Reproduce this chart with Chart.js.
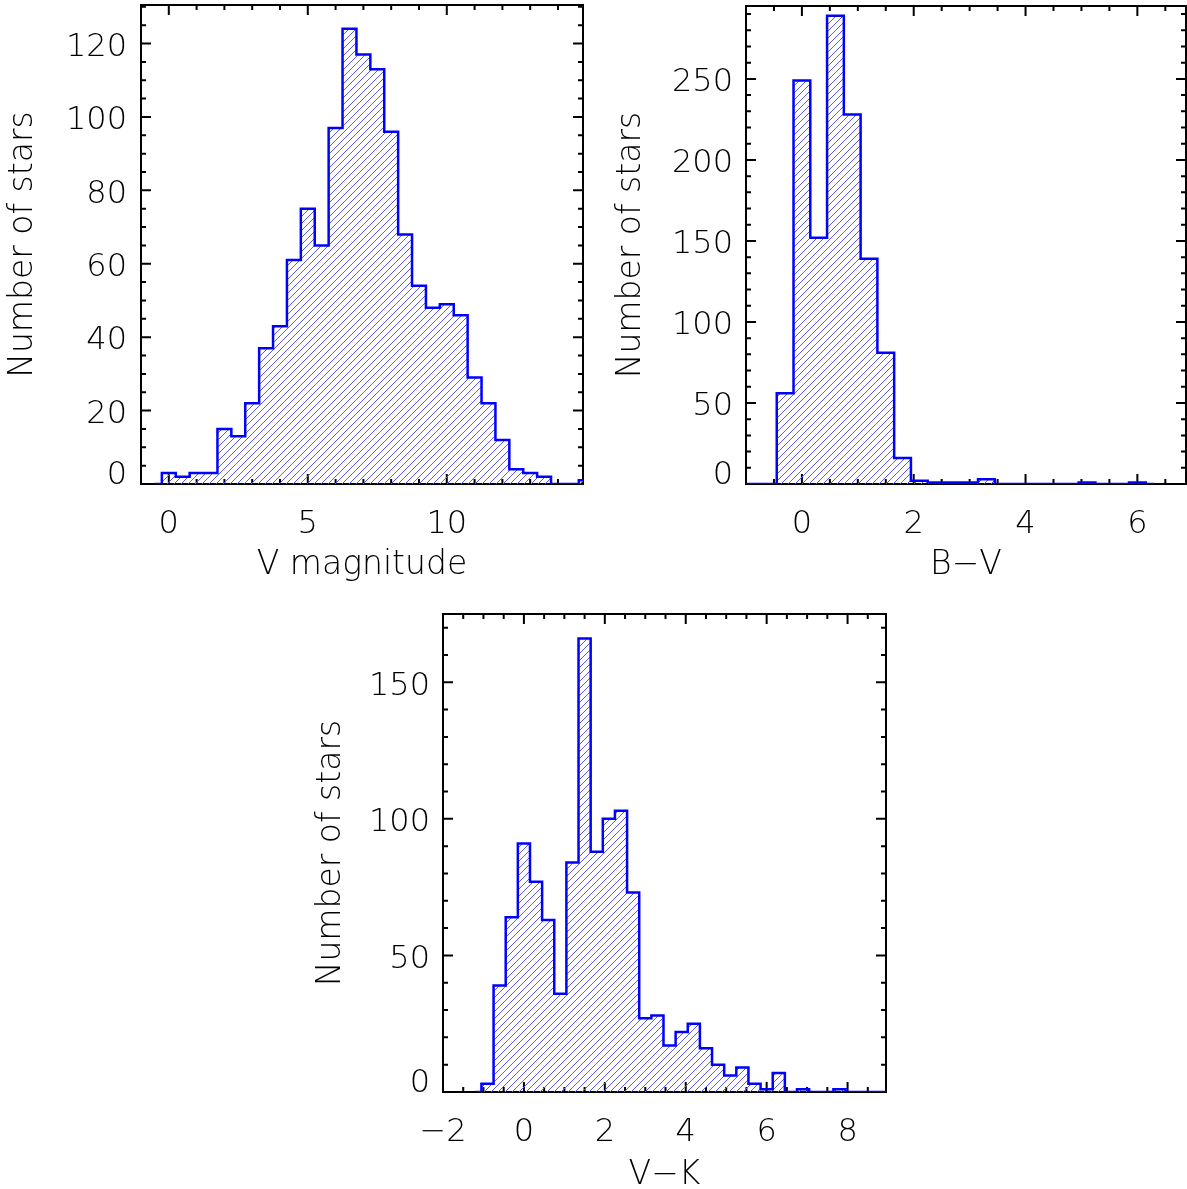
<!DOCTYPE html>
<html>
<head>
<meta charset="utf-8">
<script src="https://cdn.jsdelivr.net/npm/chart.js@4.4.0/dist/chart.umd.min.js"></script>
<style>
  html, body { margin: 0; padding: 0; background: #fff; }
  body { width: 1187px; height: 1189px; position: relative; overflow: hidden; }
  .panel { position: absolute; }
</style>
</head>
<body>
<div class="panel" style="left:0;top:0;width:600px;height:595px"><canvas id="vmag"></canvas></div>
<div class="panel" style="left:600px;top:0;width:587px;height:595px"><canvas id="bv"></canvas></div>
<div class="panel" style="left:290px;top:600px;width:610px;height:589px"><canvas id="vk"></canvas></div>
<script>
// V magnitude: bins of 0.5, first bin centred on -0.5
var vmagStart = -0.5
var vmagWidth = 0.5
var vmagCounts = [0, 3, 2, 3, 3, 15, 13, 22, 37, 43, 61, 75, 65, 97, 124, 117, 113, 96, 68, 54, 48, 49, 46, 29, 22, 12, 4, 3, 2, 0, 0, 1]
var vmagXTicks = [0, 5, 10]
var vmagYTicks = [0, 20, 40, 60, 80, 100, 120]

// B-V: bins of 0.3, first bin centred on -1.2
var bvStart = -1.2
var bvWidth = 0.3
var bvCounts = [0, 0, 0, 56, 249, 152, 289, 228, 139, 81, 16, 2, 1, 1, 1, 3, 0, 0, 0, 0, 0, 1, 0, 0, 1, 0]
var bvXTicks = [0, 2, 4, 6]
var bvYTicks = [0, 50, 100, 150, 200, 250]

// V-K: bins of 0.3, first bin centred on -1.2
var vkStart = -1.2
var vkWidth = 0.3
var vkCounts = [0, 3, 39, 64, 91, 77, 63, 36, 84, 166, 88, 100, 103, 73, 27, 28, 17, 22, 25, 16, 10, 6, 9, 3, 1, 7, 0, 1, 0, 0, 1, 0, 0, 0, 0]
var vkXTicks = [-2, 0, 2, 4, 6, 8]
var vkYTicks = [0, 50, 100, 150]

var blue = '#0000ff'
var fontFamily = "'DejaVu Sans', sans-serif"

function tickLabel(v) {
    return v < 0 ? '\u2212' + Math.abs(v) : String(v)
}

// IDL puts the "0" label a bit above the bottom axis
function yTickLabel(v) {
    return v === 0 ? ['0', ''] : String(v)
}

function yTickFont(c) {
    if (c.tick && c.tick.value === 0) return { family: fontFamily, size: 32, weight: 300, lineHeight: 0.75 }
    return { family: fontFamily, size: 32, weight: 300 }
}

// crisp one-pixel "/" hatching like IDL's polyfill lines
function hatch(canvas) {
    var n = 7
    var c = document.createElement('canvas')
    c.width = n
    c.height = n
    var g = c.getContext('2d')
    g.fillStyle = 'rgb(90, 90, 255)'
    for (var i = 0; i < n; i++) g.fillRect(i, n - 1 - i, 1, 1)
    return canvas.getContext('2d').createPattern(c, 'repeat')
}

// box around the plot with inward major / minor ticks on all four sides
var frameTicks = {
    id: 'frameTicks',
    beforeDatasetsDraw: function (chart, args, opts) {
        var ctx = chart.ctx
        var a = chart.chartArea
        var xs = chart.scales.x
        var ys = chart.scales.y
        ctx.save()
        ctx.strokeStyle = '#000'
        ctx.lineWidth = 2
        ctx.beginPath()
        ctx.rect(a.left, a.top, a.right - a.left, a.bottom - a.top)

        function xt(v, len) {
            var px = xs.getPixelForValue(v)
            ctx.moveTo(px, a.bottom); ctx.lineTo(px, a.bottom - len)
            ctx.moveTo(px, a.top); ctx.lineTo(px, a.top + len)
        }
        function yt(v, len) {
            var py = ys.getPixelForValue(v)
            ctx.moveTo(a.left, py); ctx.lineTo(a.left + len, py)
            ctx.moveTo(a.right, py); ctx.lineTo(a.right - len, py)
        }
        var v
        for (v = Math.ceil(xs.min / opts.xMinor) * opts.xMinor; v <= xs.max; v += opts.xMinor) xt(v, 5)
        for (v = Math.ceil(ys.min / opts.yMinor) * opts.yMinor; v <= ys.max; v += opts.yMinor) yt(v, 5)
        xs.ticks.forEach(function (t) { xt(t.value, 10) })
        ys.ticks.forEach(function (t) { yt(t.value, 10) })
        ctx.stroke()
        ctx.restore()
    }
}

function histChart(id, p) {
    var canvas = document.getElementById(id)
    var points = p.counts.map(function (c, i) { return { x: p.start + i * p.width, y: c } })
    var tickFont = { family: fontFamily, size: 32, weight: 300 }
    var titleFont = { family: fontFamily, size: 33, weight: 300, lineHeight: 0.8 }
    return new Chart(canvas, {
        type: 'line',
        data: {
            datasets: [{
                data: points,
                stepped: 'middle',
                borderColor: blue,
                borderWidth: 2.5,
                borderJoinStyle: 'miter',
                pointRadius: 0,
                fill: 'origin',
                backgroundColor: hatch(canvas)
            }]
        },
        options: {
            responsive: true,
            maintainAspectRatio: false,
            animation: false,
            events: [],
            layout: { padding: { top: p.padTop, right: p.padRight, left: 0, bottom: 0 } },
            plugins: {
                legend: { display: false },
                tooltip: { enabled: false },
                frameTicks: { xMinor: p.xMinor, yMinor: p.yMinor }
            },
            scales: {
                x: {
                    type: 'linear',
                    min: p.xMin,
                    max: p.xMax,
                    afterBuildTicks: function (s) { s.ticks = p.xTicks.map(function (v) { return { value: v } }) },
                    afterFit: function (s) {
                        s.height = p.xAxisHeight
                        s.paddingLeft = 0
                        s.paddingRight = 0
                    },
                    grid: { display: false, drawTicks: false },
                    border: { display: false },
                    ticks: { autoSkip: false, maxRotation: 0, padding: p.xTickPad, color: '#000', font: tickFont, callback: tickLabel },
                    title: { display: true, text: p.xTitle, color: '#000', font: titleFont, padding: { top: 0, bottom: p.xTitlePad } }
                },
                y: {
                    type: 'linear',
                    min: 0,
                    max: p.yMax,
                    afterBuildTicks: function (s) { s.ticks = p.yTicks.map(function (v) { return { value: v } }) },
                    afterFit: function (s) {
                        s.width = p.yAxisWidth
                        s.paddingTop = 0
                        s.paddingBottom = 0
                    },
                    grid: { display: false, drawTicks: false },
                    border: { display: false },
                    ticks: { autoSkip: false, padding: p.yTickPad, labelOffset: 4, color: '#000', font: yTickFont, callback: yTickLabel },
                    title: { display: true, text: 'Number of stars', color: '#000', font: titleFont, padding: { top: p.yTitlePad, bottom: 0 } }
                }
            }
        },
        plugins: [frameTicks]
    })
}

histChart('vmag', {
    start: vmagStart, width: vmagWidth, counts: vmagCounts,
    xTicks: vmagXTicks, yTicks: vmagYTicks, xMin: -1, xMax: 14.9, yMax: 130.5,
    xMinor: 1, yMinor: 5, xTitle: 'V magnitude',
    padTop: 5, padRight: 17, yAxisWidth: 141, xAxisHeight: 111,
    xTickPad: 21.5, yTickPad: 14, yTitlePad: 10.3, xTitlePad: 16.3
})

histChart('bv', {
    start: bvStart, width: bvWidth, counts: bvCounts,
    xTicks: bvXTicks, yTicks: bvYTicks, xMin: -1, xMax: 6.87, yMax: 295,
    xMinor: 0.5, yMinor: 10, xTitle: 'B\u2212V',
    padTop: 6, padRight: 1, yAxisWidth: 146, xAxisHeight: 111,
    xTickPad: 21.5, yTickPad: 13, yTitlePad: 18.3, xTitlePad: 16.3
})

histChart('vk', {
    start: vkStart, width: vkWidth, counts: vkCounts,
    xTicks: vkXTicks, yTicks: vkYTicks, xMin: -2, xMax: 8.95, yMax: 175,
    xMinor: 0.5, yMinor: 10, xTitle: 'V\u2212K',
    padTop: 14, padRight: 14, yAxisWidth: 153, xAxisHeight: 97,
    xTickPad: 21, yTickPad: 13, yTitlePad: 28.3, xTitlePad: 0.3
})
</script>
</body>
</html>
